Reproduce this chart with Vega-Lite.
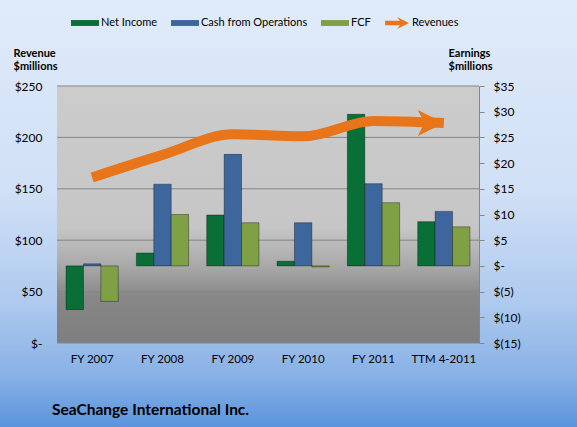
{
  "$schema": "https://vega.github.io/schema/vega-lite/v6.json",
  "width": 577,
  "height": 427,
  "padding": 0,
  "autosize": {"type": "none"},
  "background": "#b4cdf0",
  "config": {
    "view": {"stroke": null},
    "font": "Lato",
    "axis": {"labelFont": "Lato", "titleFont": "Lato", "labelColor": "#000", "titleColor": "#000", "labelFontSize": 12, "zindex": 1}
  },
  "datasets": {
    "earn": [
      {"period": "FY 2007", "series": "Net Income", "value": -8.5},
      {"period": "FY 2007", "series": "Cash from Operations", "value": 0.4},
      {"period": "FY 2007", "series": "FCF", "value": -6.9},
      {"period": "FY 2008", "series": "Net Income", "value": 2.5},
      {"period": "FY 2008", "series": "Cash from Operations", "value": 15.9},
      {"period": "FY 2008", "series": "FCF", "value": 10.0},
      {"period": "FY 2009", "series": "Net Income", "value": 9.9},
      {"period": "FY 2009", "series": "Cash from Operations", "value": 21.7},
      {"period": "FY 2009", "series": "FCF", "value": 8.4},
      {"period": "FY 2010", "series": "Net Income", "value": 0.9},
      {"period": "FY 2010", "series": "Cash from Operations", "value": 8.4},
      {"period": "FY 2010", "series": "FCF", "value": -0.2},
      {"period": "FY 2011", "series": "Net Income", "value": 29.5},
      {"period": "FY 2011", "series": "Cash from Operations", "value": 16.0},
      {"period": "FY 2011", "series": "FCF", "value": 12.3},
      {"period": "TTM 4-2011", "series": "Net Income", "value": 8.6},
      {"period": "TTM 4-2011", "series": "Cash from Operations", "value": 10.6},
      {"period": "TTM 4-2011", "series": "FCF", "value": 7.6}
    ],
    "rev": [
      {"period": "FY 2007", "revenue": 161},
      {"period": "FY 2008", "revenue": 183},
      {"period": "FY 2009", "revenue": 203},
      {"period": "FY 2010", "revenue": 201},
      {"period": "FY 2011", "revenue": 216},
      {"period": "TTM 4-2011", "revenue": 214}
    ],
    "grid": [{"g": 50}, {"g": 100}, {"g": 150}, {"g": 200}, {"g": 250}]
  },
  "layer": [
    {
      "layer": [
        {
          "data": {"values": [{}]},
          "mark": {"type": "rect", "fill": {"gradient": "linear", "x1": 0, "y1": 0, "x2": 0, "y2": 1, "stops": [
            {"offset": 0, "color": "#e0ebfa"},
            {"offset": 0.45, "color": "#d0e0f6"},
            {"offset": 0.7, "color": "#b0cbef"},
            {"offset": 0.88, "color": "#88b1e6"},
            {"offset": 1, "color": "#5b94dc"}
          ]}},
          "encoding": {}
        },
        {
          "data": {"values": [{}]},
          "mark": {"type": "rect", "fill": {"gradient": "linear", "x1": 0, "y1": 0, "x2": 0, "y2": 1, "stops": [
            {"offset": 0, "color": "#cccccc"},
            {"offset": 0.55, "color": "#c6c6c6"},
            {"offset": 0.7, "color": "#a9a9a9"},
            {"offset": 0.82, "color": "#878787"},
            {"offset": 1, "color": "#7e7e7e"}
          ]}},
          "encoding": {
            "x": {"datum": "FY 2007", "type": "nominal", "bandPosition": 0, "axis": null, "scale": {"domain": ["FY 2007", "FY 2008", "FY 2009", "FY 2010", "FY 2011", "TTM 4-2011"], "range": [57, 479], "paddingInner": 0, "paddingOuter": 0}},
            "x2": {"datum": "TTM 4-2011", "bandPosition": 1},
            "y": {"datum": 250, "type": "quantitative", "axis": null, "scale": {"domain": [0, 250], "range": [343, 86], "nice": false, "zero": false}},
            "y2": {"datum": 0}
          }
        },
        {
          "data": {"name": "grid"},
          "mark": {"type": "rule", "color": "#868686", "strokeWidth": 1},
          "encoding": {
            "x": {"datum": "FY 2007", "type": "nominal", "bandPosition": 0, "axis": null, "scale": {"domain": ["FY 2007", "FY 2008", "FY 2009", "FY 2010", "FY 2011", "TTM 4-2011"], "range": [57, 479], "paddingInner": 0, "paddingOuter": 0}},
            "x2": {"datum": "TTM 4-2011", "bandPosition": 1},
            "y": {"field": "g", "type": "quantitative", "axis": null, "scale": {"domain": [0, 250], "range": [343, 86], "nice": false, "zero": false}}
          }
        },
        {
          "data": {"values": [{}]},
          "mark": {"type": "rule", "color": "#868686", "strokeWidth": 1},
          "encoding": {
            "x": {"datum": "FY 2007", "type": "nominal", "bandPosition": 0, "axis": null, "scale": {"domain": ["FY 2007", "FY 2008", "FY 2009", "FY 2010", "FY 2011", "TTM 4-2011"], "range": [57, 479], "paddingInner": 0, "paddingOuter": 0}},
            "x2": {"datum": "TTM 4-2011", "bandPosition": 1},
            "y": {"datum": 0, "type": "quantitative", "axis": null, "scale": {"domain": [0, 250], "range": [343, 86], "nice": false, "zero": false}}
          }
        },
        {
          "data": {"name": "rev"},
          "mark": {"type": "text", "font": "Lato", "fontSize": 11.5, "color": "#000", "baseline": "middle", "align": "center"},
          "encoding": {
            "x": {"field": "period", "type": "nominal", "sort": null, "axis": null, "scale": {"domain": ["FY 2007", "FY 2008", "FY 2009", "FY 2010", "FY 2011", "TTM 4-2011"], "range": [57, 479], "paddingInner": 0, "paddingOuter": 0}},
            "y": {"datum": -16.5, "type": "quantitative", "axis": null, "scale": {"domain": [0, 250], "range": [343, 86], "nice": false, "zero": false}},
            "text": {"field": "period", "type": "nominal"}
          }
        },
        {
          "data": {"values": [{"title": "SeaChange International Inc."}]},
          "mark": {"type": "text", "font": "Lato", "fontSize": 15.5, "fontWeight": "bold", "color": "#000", "baseline": "alphabetic", "align": "left", "dx": -5},
          "encoding": {
            "x": {"datum": "FY 2007", "type": "nominal", "bandPosition": 0, "axis": null, "scale": {"domain": ["FY 2007", "FY 2008", "FY 2009", "FY 2010", "FY 2011", "TTM 4-2011"], "range": [57, 479], "paddingInner": 0, "paddingOuter": 0}},
            "y": {"datum": -70, "type": "quantitative", "axis": null, "scale": {"domain": [0, 250], "range": [343, 86], "nice": false, "zero": false}},
            "text": {"field": "title", "type": "nominal"}
          }
        }
      ]
    },
    {
      "data": {"name": "earn"},
      "mark": {"type": "bar", "stroke": "#000", "strokeOpacity": 0.35, "strokeWidth": 1},
      "encoding": {
        "x": {"field": "period", "type": "nominal", "sort": null, "axis": null,
          "scale": {"domain": ["FY 2007", "FY 2008", "FY 2009", "FY 2010", "FY 2011", "TTM 4-2011"], "range": [57, 479], "paddingInner": 0, "paddingOuter": 0}},
        "xOffset": {"field": "series", "type": "nominal", "scale": {"domain": ["Net Income", "Cash from Operations", "FCF"], "paddingInner": 0, "paddingOuter": 0.52}},
        "y": {"field": "value", "type": "quantitative",
          "scale": {"domain": [-15, 35], "range": [343, 86], "nice": false, "zero": false},
          "axis": {
            "orient": "right", "offset": -98, "values": [-15, -10, -5, 0, 5, 10, 15, 20, 25, 30, 35],
            "labelExpr": "datum.value == 0 ? '$-' : (datum.value < 0 ? '$(' + (-datum.value) + ')' : '$' + datum.value)",
            "domain": true, "domainColor": "#868686", "ticks": true, "tickSize": 5, "tickColor": "#868686",
            "labelPadding": 9, "grid": false, "zindex": 1,
            "title": ["Earnings", "$millions"], "titleAngle": 0, "titleFontSize": 11, "titleFontWeight": "bold",
            "titleX": -31, "titleY": 56, "titleAlign": "left", "titleBaseline": "alphabetic", "titleLineHeight": 13
          }
        },
        "y2": {"datum": 0},
        "color": {"field": "series", "type": "nominal",
          "scale": {"domain": ["Net Income", "Cash from Operations", "FCF"], "range": ["#0a6e37", "#3d669d", "#80a046"]},
          "legend": {
            "orient": "none", "legendX": 71, "legendY": 9, "direction": "horizontal", "columns": 3, "title": null,
            "symbolType": "M-1,-0.21L1,-0.21L1,0.21L-1,0.21Z",
            "symbolSize": 784, "labelFontSize": 11, "labelFont": "Lato", "labelColor": "#000",
            "columnPadding": 13, "labelOffset": 2, "symbolStrokeWidth": 0, "symbolOpacity": 1
          }
        }
      }
    },
    {
      "data": {"name": "rev"},
      "layer": [
        {
          "mark": {"type": "line", "interpolate": "monotone", "strokeWidth": 10, "strokeCap": "butt", "color": "#E8751A"}
        },
        {
          "transform": [{"filter": "datum.period === 'TTM 4-2011'"}],
          "mark": {"type": "point", "filled": true, "opacity": 1, "color": "#E8751A", "strokeWidth": 0, "size": 144},
          "encoding": {
            "shape": {"datum": "Revenues", "type": "nominal",
              "scale": {"domain": ["Revenues"], "range": ["M0,0L-2,-1L-1.5,-0.36L-4,-0.36L-4,0.36L-1.5,0.36L-2,1Z"]},
              "legend": {
                "orient": "none", "legendX": 403, "legendY": 17, "title": null,
                "symbolSize": 144, "symbolFillColor": "#E8751A", "symbolStrokeWidth": 0, "symbolOpacity": 1,
                "labelFontSize": 11, "labelFont": "Lato", "labelColor": "#000", "labelOffset": -3
              }
            }
          }
        },
        {
          "transform": [{"filter": "datum.period === 'TTM 4-2011'"}],
          "mark": {"type": "point", "shape": "M0,0L-2,-1L-1.5,0L-2,1Z", "size": 676, "filled": true, "opacity": 1, "color": "#E8751A", "strokeWidth": 0}
        }
      ],
      "encoding": {
        "x": {"field": "period", "type": "nominal", "sort": null, "axis": null,
          "scale": {"domain": ["FY 2007", "FY 2008", "FY 2009", "FY 2010", "FY 2011", "TTM 4-2011"], "range": [57, 479], "paddingInner": 0, "paddingOuter": 0}},
        "y": {"field": "revenue", "type": "quantitative",
          "scale": {"domain": [0, 250], "range": [343, 86], "nice": false, "zero": false},
          "axis": {
            "orient": "left", "offset": -57, "values": [0, 50, 100, 150, 200, 250],
            "labelExpr": "datum.value == 0 ? '$-' : '$' + datum.value",
            "domain": false, "ticks": false, "labelPadding": 15, "grid": false, "zindex": 1,
            "title": ["Revenue", "$millions"], "titleAngle": 0, "titleFontSize": 11, "titleFontWeight": "bold",
            "titleX": -44, "titleY": 56, "titleAlign": "left", "titleBaseline": "alphabetic", "titleLineHeight": 13
          }
        }
      }
    }
  ],
  "resolve": {"scale": {"y": "independent"}}
}
